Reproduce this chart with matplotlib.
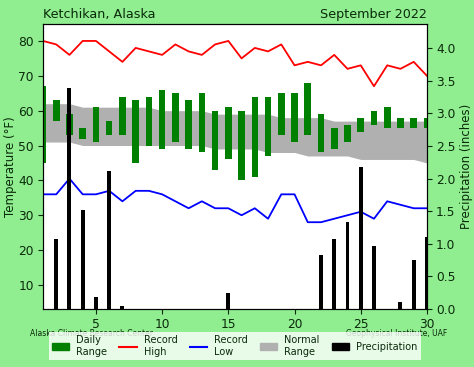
import numpy as np
import matplotlib
matplotlib.use('Agg')
import matplotlib.pyplot as plt
from matplotlib.patches import Patch
from matplotlib.lines import Line2D

days = np.arange(1, 31)

daily_high = [67, 63, 59, 55, 61, 57, 64, 63, 64, 66, 65, 63, 65, 60, 61,
              60, 64, 64, 65, 65, 68, 59, 55, 56, 58, 60, 61, 58, 58, 58]
daily_low = [45, 57, 53, 52, 51, 53, 53, 45, 50, 49, 51, 49, 48, 43, 46,
             40, 41, 47, 53, 51, 53, 48, 49, 51, 54, 56, 55, 55, 55, 55]

record_high = [80, 79, 76, 80, 80, 77, 74, 78, 77, 76, 79, 77, 76, 79, 80,
               75, 78, 77, 79, 73, 74, 73, 76, 72, 73, 67, 73, 72, 74, 70]
record_low = [36, 36, 40.5, 36, 36, 37, 34, 37, 37, 36, 34, 32, 34, 32, 32,
              30, 32, 29, 36, 36, 28, 28, 29, 30, 31, 29, 34, 33, 32, 32]

normal_high = [62, 62, 62, 61, 61, 61, 61, 61, 61, 60, 60, 60, 60, 59, 59,
               59, 59, 59, 58, 58, 58, 58, 57, 57, 57, 57, 57, 57, 57, 57]
normal_low = [51, 51, 51, 50, 50, 50, 50, 50, 50, 50, 50, 50, 50, 49, 49,
              49, 49, 48, 48, 48, 47, 47, 47, 47, 46, 46, 46, 46, 46, 45]

precip = [0, 1.08, 3.39, 1.52, 0.18, 2.12, 0.05, 0, 0, 0, 0, 0, 0, 0, 0.24,
          0, 0, 0, 0, 0, 0, 0.83, 1.07, 1.33, 2.18, 0.96, 0, 0.11, 0.75, 1.1]

txt = '#0a2a0a'
plt.rcParams['text.color'] = txt
plt.rcParams['axes.labelcolor'] = txt
plt.rcParams['xtick.color'] = txt
plt.rcParams['ytick.color'] = txt

fig = plt.figure(figsize=(4.74, 3.67), dpi=100, facecolor='#90ee90')
ax = fig.add_axes([0.0907, 0.158, 0.81, 0.777])

ax.fill_between(days, normal_low, normal_high, color='#b0b0b0', lw=0)
ax.bar(days, np.array(daily_high) - np.array(daily_low), bottom=daily_low,
       width=0.5, color='green')
ax.plot(days, record_high, color='red', lw=1.3)
ax.plot(days, record_low, color='blue', lw=1.3)

ax.set_xlim(1, 30)
ax.set_ylim(3.1, 84.9)
ax.set_xticks([5, 10, 15, 20, 25, 30])
ax.set_yticks([10, 20, 30, 40, 50, 60, 70, 80])
ax.set_ylabel('Temperature (°F)', fontsize=8.5, labelpad=1)
ax.tick_params(labelsize=8.8, pad=3)

ax2 = ax.twinx()
ax2.bar(days, precip, width=0.3, color='black')
ax2.set_ylim(0, 4.37)
ax2.set_yticks([0, 0.5, 1.0, 1.5, 2.0, 2.5, 3.0, 3.5, 4.0])
ax2.set_ylabel('Precipitation (inches)', fontsize=8.5, labelpad=3)
ax2.tick_params(labelsize=8.8, pad=3)

ax.set_title('Ketchikan, Alaska', loc='left', fontsize=9.2, pad=4)
ax.set_title('September 2022', loc='right', fontsize=9.2, pad=4)

fig.text(0.063, 0.09, 'Alaska Climate Research Center', fontsize=5.5,
         va='center')
fig.text(0.943, 0.09, 'Geophysical Institute, UAF', fontsize=5.5,
         ha='right', va='center')

handles = [Patch(color='green'), Line2D([], [], color='red'),
           Line2D([], [], color='blue'), Patch(color='#b0b0b0'),
           Patch(color='black')]
labels = ['Daily\nRange', 'Record\nHigh', 'Record\nLow', 'Normal\nRange',
          'Precipitation']
fig.legend(handles, labels, loc='center', bbox_to_anchor=(0.495, 0.057),
           ncol=5, fontsize=7, frameon=True, facecolor='white',
           framealpha=0.8, edgecolor='none', fancybox=False,
           handlelength=1.8, handletextpad=0.7, columnspacing=1.25,
           borderpad=0.35)

fig.savefig('out.png', dpi=100, facecolor=fig.get_facecolor())
